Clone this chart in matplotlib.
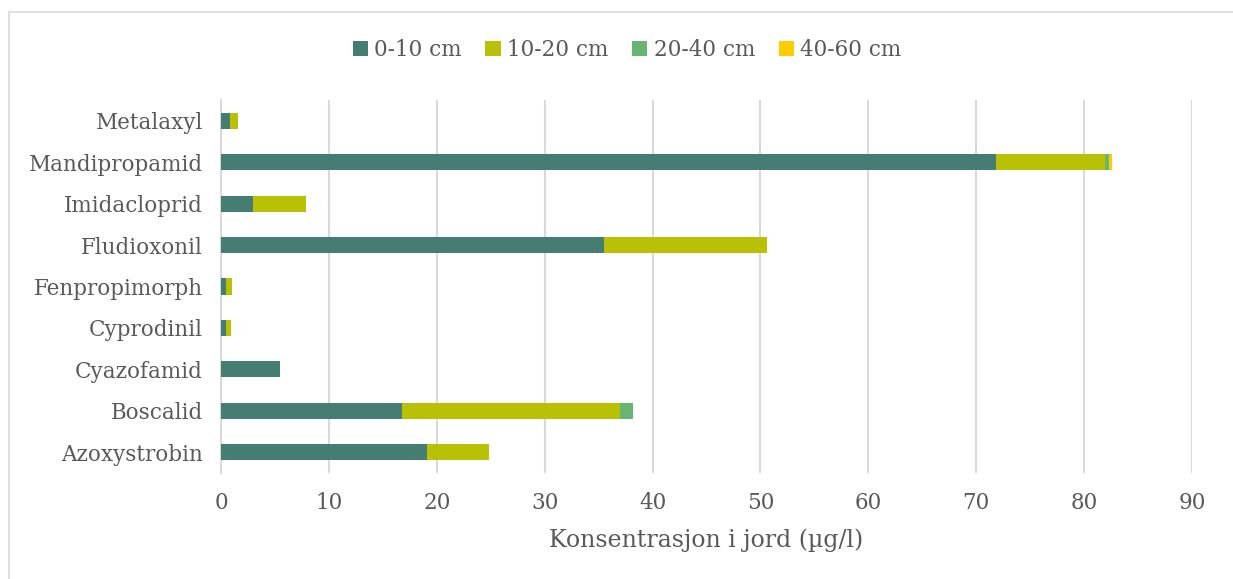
import numpy as np
import matplotlib.pyplot as plt
from matplotlib.patches import Rectangle

plt.rcParams['font.family'] = ['DejaVu Serif']

stoffer = ['Azoxystrobin', 'Boscalid', 'Cyazofamid', 'Cyprodinil', 'Fenpropimorph',
           'Fludioxonil', 'Imidacloprid', 'Mandipropamid', 'Metalaxyl']

d0_10 = [19.1, 16.8, 5.5, 0.45, 0.45, 35.5, 3.0, 71.8, 0.8]
d10_20 = [5.7, 20.2, 0.0, 0.45, 0.55, 15.1, 4.9, 10.1, 0.8]
d20_40 = [0.0, 1.2, 0.0, 0.0, 0.0, 0.0, 0.0, 0.4, 0.0]
d40_60 = [0.0, 0.0, 0.0, 0.0, 0.0, 0.0, 0.0, 0.3, 0.0]

serier = [d0_10, d10_20, d20_40, d40_60]
navn = ['0-10 cm', '10-20 cm', '20-40 cm', '40-60 cm']
farger = ['#467D73', '#B8C106', '#68B572', '#FFCC00']

tekst = '#595959'
grid = '#D9D9D9'

fig = plt.figure(figsize=(12.33, 5.79), dpi=100)
fig.patches.append(Rectangle((9 / 1233, -0.01), 1.2, 1 - 12 / 579 + 0.01,
                             transform=fig.transFigure, fill=False,
                             edgecolor=grid, linewidth=1.2))
ax = fig.add_axes([221 / 1233, 1 - 473 / 579, (1192 - 221) / 1233, (473 - 100) / 579])

y = np.arange(len(stoffer))
venstre = np.zeros(len(stoffer))
for verdier, lab, c in zip(serier, navn, farger):
    ax.barh(y, verdier, height=0.39, left=venstre, color=c, label=lab, zorder=3)
    venstre += np.array(verdier)

ax.set_xlim(0, 90)
ax.set_ylim(-0.5, len(stoffer) - 0.5)
ax.set_xticks(np.arange(0, 91, 10))
ax.set_yticks(y)
ax.set_yticklabels(stoffer)
ax.grid(axis='x', color=grid, linewidth=1.5, zorder=0)
ax.set_axisbelow(True)
for s in ['top', 'right', 'bottom']:
    ax.spines[s].set_visible(False)
ax.spines['left'].set_color(grid)
ax.spines['left'].set_linewidth(1.5)
ax.tick_params(length=0, labelcolor=tekst)
ax.tick_params(axis='x', pad=14, labelsize=15.5)
ax.tick_params(axis='y', pad=13, labelsize=15.5)
ax.set_xlabel('Konsentrasjon i jord (µg/l)', fontsize=17, color=tekst, labelpad=10)

fig.legend(loc='center', bbox_to_anchor=(627 / 1233, 1 - 50 / 579), ncol=4,
           frameon=False, fontsize=15.5, labelcolor=tekst, handlelength=0.7,
           handleheight=0.7, handletextpad=0.3, columnspacing=1.1)

fig.savefig('out.png', dpi=100)
